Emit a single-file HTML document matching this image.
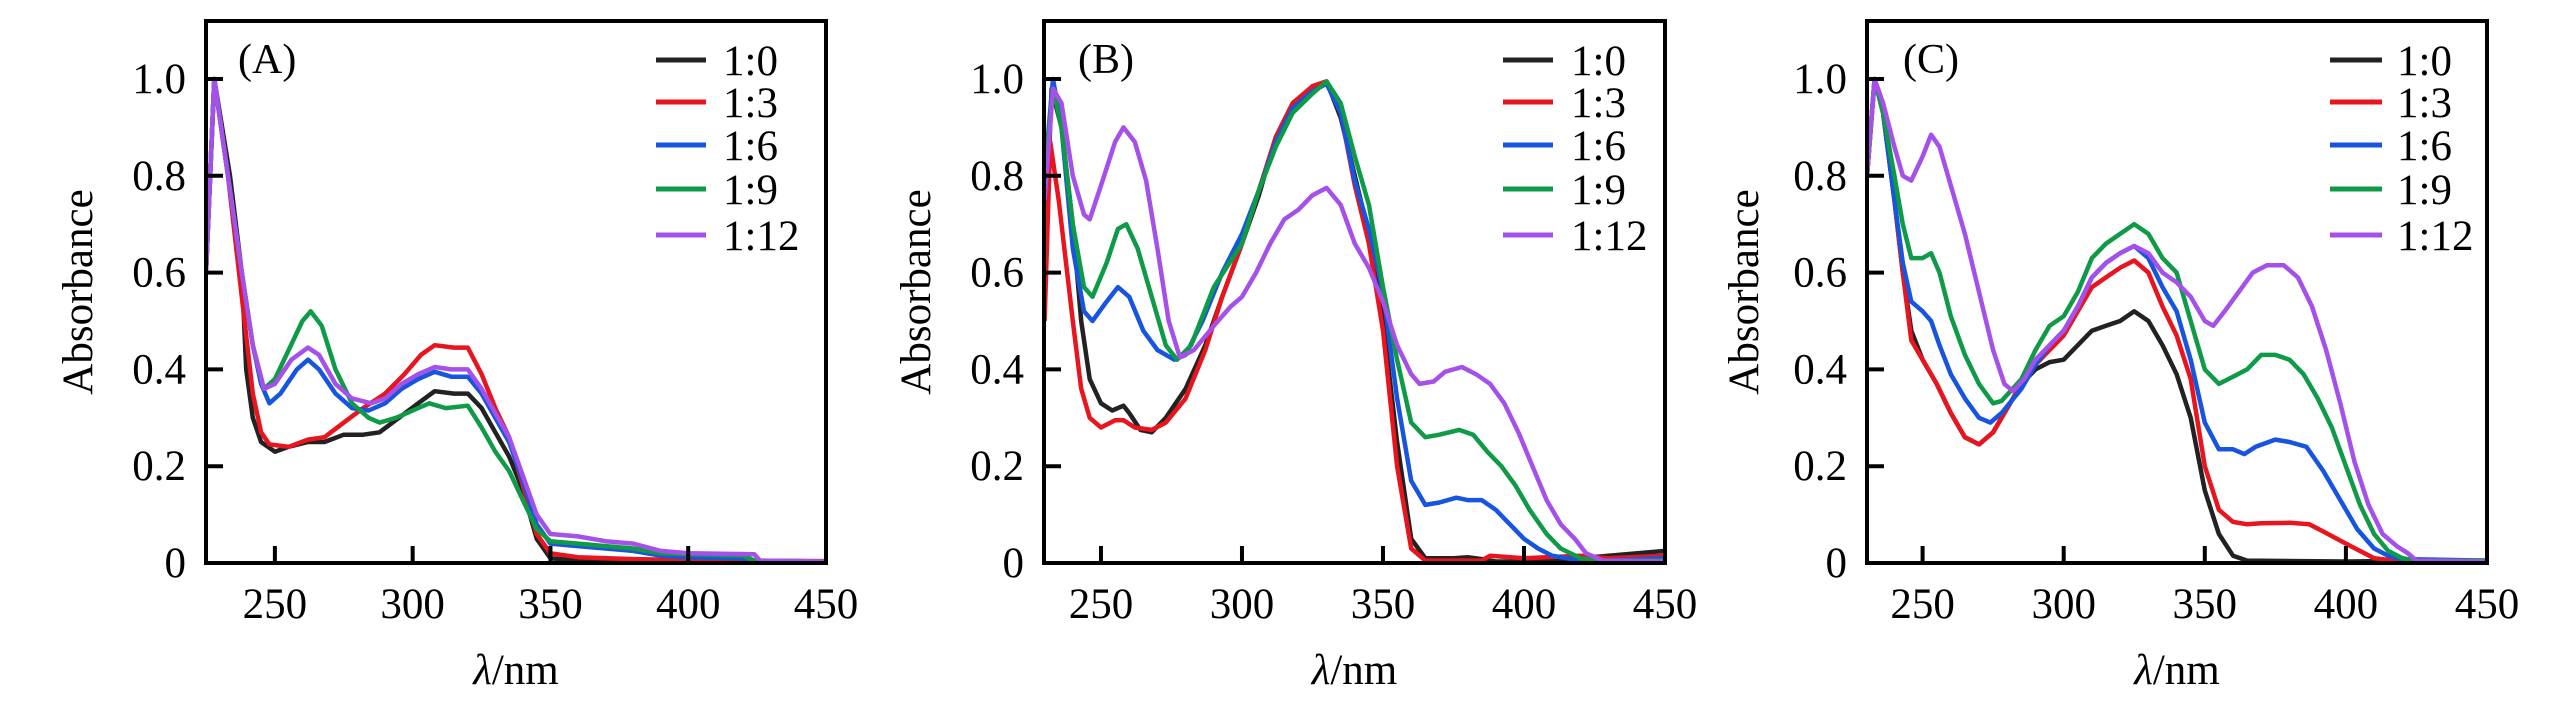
<!DOCTYPE html>
<html><head><meta charset="utf-8"><style>
html,body{margin:0;padding:0;background:#fff;}
svg{display:block;font-family:"Liberation Serif",serif;}
</style></head><body>
<svg id="chart" width="2567" height="709" viewBox="0 0 2567 709" xmlns="http://www.w3.org/2000/svg"></svg>
<script>
const seriesNames = ["1:0","1:3","1:6","1:9","1:12"];
const seriesColors = ["#222222","#e8141e","#1755e0","#0f9a48","#a550e8"];
const xTicks = [250,300,350,400,450];
const yTicks = [0,0.2,0.4,0.6,0.8,1.0];
const yTickLabels = ["0","0.2","0.4","0.6","0.8","1.0"];
const panelLabels = ["(A)","(B)","(C)"];

const A_black = [[225,0.6],[228,1.0],[233.7,0.8],[238,0.6],[239.6,0.4],[242,0.3],[245,0.25],[250,0.23],[255,0.24],[262,0.25],[268,0.25],[275,0.265],[282,0.265],[288,0.27],[295,0.3],[302,0.33],[308,0.355],[315,0.35],[320,0.35],[325,0.32],[330,0.27],[335,0.22],[340,0.15],[345,0.05],[350,0.01],[360,0.005],[450,0.003]];
const A_red = [[225,0.6],[228,1.0],[233,0.8],[238,0.55],[242,0.35],[245,0.27],[248,0.245],[255,0.24],[262,0.255],[268,0.26],[275,0.29],[282,0.32],[290,0.35],[297,0.39],[303,0.43],[308,0.45],[315,0.445],[320,0.445],[325,0.39],[330,0.32],[335,0.26],[340,0.16],[345,0.06],[350,0.02],[360,0.012],[380,0.008],[400,0.006],[420,0.005],[450,0.004]];
const A_blue = [[225,0.6],[228,1.0],[233,0.8],[238,0.6],[242,0.45],[245,0.37],[248,0.33],[252,0.35],[258,0.40],[262,0.42],[266,0.40],[272,0.35],[278,0.32],[284,0.315],[290,0.33],[296,0.36],[302,0.38],[308,0.395],[314,0.385],[320,0.385],[325,0.35],[330,0.3],[335,0.25],[340,0.17],[345,0.08],[350,0.04],[360,0.035],[370,0.03],[380,0.025],[390,0.015],[400,0.012],[420,0.01],[424,0.005],[450,0.003]];
const A_green = [[225,0.6],[228,1.0],[233,0.8],[238,0.6],[242,0.45],[246,0.36],[250,0.38],[255,0.44],[260,0.5],[263,0.52],[267,0.49],[272,0.40],[278,0.33],[284,0.30],[288,0.29],[294,0.3],[300,0.315],[306,0.33],[312,0.32],[320,0.325],[325,0.28],[330,0.23],[335,0.19],[340,0.13],[345,0.07],[350,0.045],[360,0.04],[370,0.035],[380,0.03],[390,0.02],[400,0.018],[420,0.015],[424,0.005],[450,0.003]];
const A_purple = [[225,0.6],[228,1.0],[233,0.8],[238,0.6],[242,0.45],[246,0.36],[250,0.37],[256,0.42],[262,0.445],[266,0.43],[272,0.37],[278,0.34],[285,0.33],[290,0.34],[296,0.37],[302,0.39],[308,0.405],[314,0.40],[320,0.40],[325,0.36],[330,0.31],[335,0.26],[340,0.18],[345,0.1],[350,0.06],[360,0.055],[370,0.045],[380,0.04],[390,0.025],[400,0.02],[424,0.018],[426,0.005],[450,0.003]];

const B_black = [[230,0.6],[232.5,0.98],[236,0.9],[240,0.7],[243,0.5],[246,0.38],[250,0.33],[254,0.315],[258,0.325],[260,0.31],[264,0.275],[268,0.27],[273,0.3],[280,0.36],[287,0.45],[293,0.55],[300,0.66],[306,0.76],[312,0.88],[318,0.95],[325,0.985],[330,0.995],[335,0.92],[340,0.8],[345,0.68],[350,0.5],[355,0.25],[360,0.05],[365,0.01],[375,0.01],[380,0.012],[385,0.008],[390,0.003],[400,0.003],[410,0.005],[420,0.01],[430,0.015],[450,0.025]];
const B_red = [[230,0.5],[232,0.87],[235,0.75],[240,0.5],[243,0.36],[246,0.3],[250,0.28],[255,0.295],[258,0.295],[262,0.28],[268,0.275],[273,0.29],[280,0.34],[287,0.44],[293,0.55],[300,0.66],[306,0.77],[312,0.88],[318,0.95],[325,0.985],[330,0.995],[335,0.93],[340,0.78],[345,0.66],[350,0.48],[355,0.2],[360,0.03],[365,0.005],[385,0.005],[388,0.015],[400,0.01],[420,0.015],[430,0.01],[450,0.015]];
const B_blue = [[230,0.8],[233,1.0],[236,0.9],[240,0.65],[244,0.52],[247,0.5],[252,0.54],[256,0.57],[260,0.55],[265,0.48],[270,0.44],[276,0.42],[280,0.43],[286,0.5],[293,0.6],[300,0.68],[306,0.77],[312,0.87],[318,0.94],[325,0.975],[330,0.99],[335,0.93],[340,0.79],[345,0.69],[350,0.56],[355,0.34],[360,0.17],[365,0.12],[370,0.125],[376,0.135],[380,0.13],[385,0.13],[390,0.11],[395,0.08],[400,0.05],[405,0.03],[410,0.015],[420,0.005],[430,0.005],[450,0.01]];
const B_green = [[230,0.8],[233,0.98],[236,0.9],[240,0.7],[244,0.57],[247,0.55],[252,0.62],[256,0.69],[259,0.7],[263,0.65],[268,0.55],[273,0.45],[277,0.42],[282,0.45],[290,0.57],[300,0.66],[306,0.77],[312,0.86],[318,0.93],[325,0.97],[330,0.995],[335,0.95],[340,0.84],[345,0.74],[350,0.57],[355,0.42],[360,0.29],[365,0.26],[370,0.265],[377,0.275],[382,0.265],[387,0.23],[392,0.2],[397,0.16],[402,0.11],[408,0.06],[413,0.03],[420,0.01],[425,0.005],[450,0.005]];
const B_purple = [[230,0.75],[233,0.98],[236,0.95],[240,0.8],[244,0.72],[246,0.71],[250,0.78],[255,0.87],[258,0.9],[262,0.87],[266,0.79],[270,0.65],[274,0.5],[278,0.425],[283,0.44],[290,0.49],[296,0.53],[300,0.55],[305,0.6],[310,0.66],[315,0.71],[320,0.73],[325,0.76],[330,0.775],[335,0.74],[340,0.66],[345,0.61],[350,0.54],[355,0.45],[360,0.39],[363,0.37],[368,0.375],[372,0.395],[378,0.405],[383,0.39],[388,0.37],[393,0.33],[398,0.27],[403,0.2],[408,0.13],[413,0.08],[418,0.05],[422,0.02],[428,0.005],[450,0.003]];

const C_black = [[230.3,0.8],[233,1.0],[236,0.93],[240,0.75],[243,0.6],[246,0.48],[250,0.42],[255,0.37],[260,0.31],[265,0.26],[270,0.245],[275,0.27],[280,0.32],[285,0.37],[290,0.4],[295,0.415],[300,0.42],[305,0.45],[310,0.48],[315,0.49],[320,0.5],[325,0.52],[330,0.5],[335,0.45],[340,0.39],[345,0.3],[350,0.15],[355,0.06],[360,0.015],[365,0.005],[400,0.003],[430,0.005],[450,0.005]];
const C_red = [[230.3,0.8],[233,1.0],[236,0.93],[240,0.75],[243,0.6],[246,0.46],[250,0.42],[255,0.37],[260,0.31],[265,0.26],[270,0.245],[275,0.27],[280,0.32],[285,0.37],[290,0.41],[295,0.44],[300,0.47],[305,0.52],[310,0.57],[315,0.59],[320,0.61],[325,0.625],[330,0.6],[335,0.53],[340,0.47],[345,0.38],[350,0.2],[355,0.11],[360,0.085],[365,0.08],[370,0.082],[380,0.083],[387,0.08],[392,0.065],[400,0.04],[410,0.01],[420,0.003],[450,0.003]];
const C_blue = [[230.3,0.8],[233,1.0],[236,0.93],[240,0.75],[243,0.62],[246,0.54],[250,0.52],[253,0.5],[256,0.45],[260,0.39],[265,0.34],[270,0.3],[274,0.29],[278,0.31],[285,0.36],[290,0.41],[295,0.45],[300,0.48],[305,0.53],[310,0.59],[315,0.62],[320,0.64],[325,0.655],[330,0.63],[335,0.57],[340,0.52],[345,0.42],[350,0.29],[355,0.235],[360,0.235],[364,0.225],[368,0.24],[375,0.255],[380,0.25],[386,0.24],[392,0.19],[398,0.13],[404,0.07],[410,0.03],[415,0.015],[420,0.008],[450,0.005]];
const C_green = [[230.3,0.8],[233,1.0],[236,0.93],[240,0.8],[243,0.7],[246,0.63],[250,0.63],[253,0.64],[256,0.6],[260,0.51],[265,0.43],[270,0.37],[275,0.33],[278,0.335],[285,0.38],[290,0.44],[295,0.49],[300,0.51],[305,0.56],[310,0.63],[315,0.66],[320,0.68],[325,0.7],[330,0.68],[335,0.63],[340,0.6],[345,0.5],[350,0.4],[355,0.37],[360,0.385],[365,0.4],[370,0.43],[375,0.43],[380,0.42],[385,0.39],[390,0.34],[395,0.28],[400,0.2],[405,0.12],[410,0.06],[415,0.025],[420,0.01],[425,0.005],[450,0.005]];
const C_purple = [[230.3,0.8],[233,1.0],[236,0.95],[240,0.86],[243,0.8],[246,0.79],[250,0.84],[253,0.885],[256,0.86],[260,0.78],[265,0.68],[270,0.56],[275,0.44],[279,0.37],[282,0.355],[286,0.38],[290,0.42],[295,0.45],[300,0.48],[305,0.53],[310,0.59],[315,0.62],[320,0.64],[325,0.655],[330,0.64],[335,0.6],[340,0.58],[345,0.55],[350,0.5],[353,0.49],[357,0.52],[362,0.56],[367,0.6],[372,0.615],[378,0.615],[383,0.59],[388,0.53],[393,0.44],[398,0.33],[403,0.21],[408,0.12],[413,0.06],[418,0.035],[422,0.02],[425,0.005],[450,0.003]];

const panelSeries = [[A_black,A_red,A_blue,A_green,A_purple],[B_black,B_red,B_blue,B_green,B_purple],[C_black,C_red,C_blue,C_green,C_purple]];

const NS = "http://www.w3.org/2000/svg";
const svg = document.getElementById("chart");
function mk(tag, attrs, parent, text){
  const e = document.createElementNS(NS, tag);
  for (const k in attrs) e.setAttribute(k, attrs[k]);
  if (text !== undefined) e.textContent = text;
  (parent||svg).appendChild(e);
  return e;
}
const panels = [
  {left:206,right:826,xmin:225,ytitle:77,legLine:[-170,-120],legText:-103,labelX:238},
  {left:1044,right:1665,xmin:229.8,ytitle:915,legLine:[-162,-112],legText:-94,labelX:1078},
  {left:1867,right:2487,xmin:230.3,ytitle:1743,legLine:[-157,-105],legText:-90,labelX:1903}
];
const TOP=21, BOTTOM=563, Y1=79;
const yScale = v => BOTTOM - v*(BOTTOM-Y1);
const keys=["a","b","c"];
panels.forEach((p,pi)=>{
  const xScale = w => p.left + (w-p.xmin)*(p.right-p.left)/(450-p.xmin);
  const g = mk("g",{});
  
  
  const clipId="clip"+pi;
  const cp = mk("clipPath",{id:clipId},g);
  mk("rect",{x:p.left,y:TOP,width:p.right-p.left,height:BOTTOM-TOP},cp);
  const sg = mk("g",{"clip-path":"url(#"+clipId+")"},g);
  panelSeries[pi].forEach((pts,si)=>{
    const d = pts.map((q,i)=>(i?"L":"M")+xScale(q[0]).toFixed(1)+","+yScale(q[1]).toFixed(1)).join("");
    const path = mk("path",{d:d,fill:"none",stroke:seriesColors[si],"stroke-width":4.5,"stroke-linejoin":"round"},sg);
    
    
  });
  xTicks.forEach(t=>{
    const x=xScale(t);
    if (t<450){ const tk=mk("line",{x1:x,x2:x,y1:BOTTOM,y2:BOTTOM-17,stroke:"#000","stroke-width":4},g);
      }
    const lb=mk("text",{x:x,y:618,"font-size":43,"text-anchor":"middle"},g,String(t));
    
    
  });
  yTicks.forEach((t,i)=>{
    const y=yScale(t);
    const tk=mk("line",{x1:p.left,x2:p.left+17,y1:y,y2:y,stroke:"#000","stroke-width":4},g);
     
    const lb=mk("text",{x:p.left-20,y:y+14,"font-size":43,"text-anchor":"end"},g,yTickLabels[i]);
    
    
  });
  const box=mk("rect",{x:p.left,y:TOP,width:p.right-p.left,height:BOTTOM-TOP,fill:"none",stroke:"#000","stroke-width":4},g);
   
  const pl=mk("text",{x:p.labelX,y:73,"font-size":42},g,panelLabels[pi]);
   
  const yt=mk("text",{x:0,y:0,"font-size":43,"text-anchor":"middle",transform:"translate("+(p.ytitle+15)+",292) rotate(-90)"},g,"Absorbance");
   
  const xt=mk("text",{x:(p.left+p.right)/2,y:684,"font-size":43,"text-anchor":"middle"},g);
   
  mk("tspan",{"font-style":"italic"},xt,"λ");
  mk("tspan",{},xt,"/nm");
  const lg=mk("g",{},g);
   
  const rows=[60,102,145,189,235];
  seriesNames.forEach((n,si)=>{
    const le=mk("g",{},lg);
     
    mk("line",{x1:p.right+p.legLine[0],x2:p.right+p.legLine[1],y1:rows[si],y2:rows[si],stroke:seriesColors[si],"stroke-width":5},le);
    mk("text",{x:p.right+p.legText,y:rows[si]+15,"font-size":43},le,n);
  });
});
</script>
</body></html>
